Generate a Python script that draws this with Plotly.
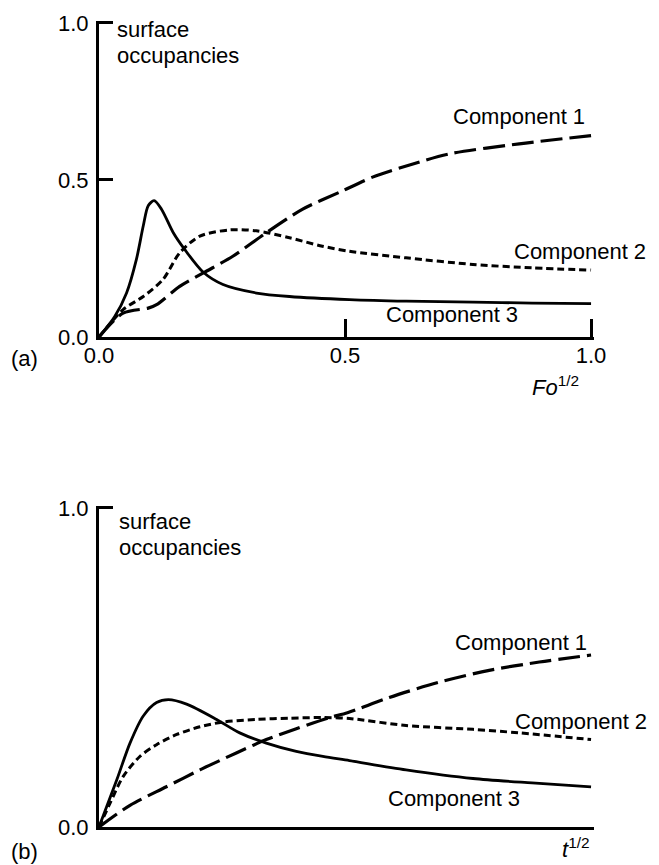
import plotly.graph_objects as go

# ---------------- data ----------------
# Panel (a): x = Fo^1/2
a_c1_x = [0, 0.049, 0.10, 0.117, 0.164, 0.212, 0.272, 0.34, 0.414, 0.489, 0.556, 0.638, 0.712, 0.854, 1.0]
a_c1_y = [0, 0.076, 0.092, 0.103, 0.161, 0.204, 0.257, 0.332, 0.407, 0.461, 0.509, 0.551, 0.583, 0.615, 0.641]

a_c2_x = [0, 0.049, 0.09, 0.13, 0.164, 0.205, 0.266, 0.32, 0.387, 0.454, 0.509, 0.624, 0.76, 0.88, 1.0]
a_c2_y = [0, 0.087, 0.129, 0.183, 0.268, 0.321, 0.341, 0.338, 0.316, 0.289, 0.273, 0.252, 0.231, 0.220, 0.213]

a_c3_x = [0, 0.032, 0.056, 0.076, 0.09, 0.10, 0.112, 0.127, 0.151, 0.174, 0.212, 0.252, 0.32, 0.387, 0.509, 0.624, 0.76, 0.88, 1.0]
a_c3_y = [0, 0.065, 0.14, 0.247, 0.354, 0.418, 0.434, 0.407, 0.332, 0.279, 0.206, 0.167, 0.14, 0.129, 0.119, 0.114, 0.111, 0.108, 0.106]

# Panel (b): x = t^1/2 (unlabelled, normalised 0..1)
b_c1_x = [0, 0.063, 0.137, 0.205, 0.279, 0.34, 0.401, 0.469, 0.505, 0.59, 0.692, 0.793, 0.895, 1.0]
b_c1_y = [0, 0.068, 0.126, 0.179, 0.232, 0.274, 0.308, 0.343, 0.358, 0.406, 0.454, 0.491, 0.517, 0.539]

b_c2_x = [0, 0.022, 0.049, 0.083, 0.117, 0.158, 0.205, 0.252, 0.32, 0.387, 0.455, 0.509, 0.624, 0.76, 0.854, 1.0]
b_c2_y = [0, 0.073, 0.158, 0.221, 0.258, 0.29, 0.314, 0.329, 0.337, 0.341, 0.343, 0.340, 0.318, 0.306, 0.295, 0.274]

b_c3_x = [0, 0.036, 0.063, 0.09, 0.117, 0.141, 0.178, 0.239, 0.286, 0.34, 0.401, 0.455, 0.509, 0.624, 0.76, 0.88, 1.0]
b_c3_y = [0, 0.147, 0.263, 0.348, 0.39, 0.399, 0.385, 0.337, 0.295, 0.263, 0.237, 0.221, 0.208, 0.179, 0.152, 0.138, 0.126]

a_xtickvals = [0, 0.5, 1.0]
a_xticktext = ["0.0", "0.5", "1.0"]
a_ytickvals = [0, 0.5, 1.0]
a_yticktext = ["0.0", "0.5", "1.0"]
b_ytickvals = [0, 1.0]
b_yticktext = ["0.0", "1.0"]

series_names = ["Component 1", "Component 2", "Component 3"]

# ---------------- layout helpers ----------------
W, H = 659, 865
FONT = "Liberation Sans, Arial, Helvetica, sans-serif"
FS = 22


def px(x):
    return x / W


def py(y):
    return (H - y) / H


dash_long = "22px,7px"
dash_short = "7px,4px"
styles = [dict(dash=dash_long, width=3.2), dict(dash=dash_short, width=3), dict(dash="solid", width=2.8)]

fig = go.Figure()

panels = [
    ("x", "y", [(a_c1_x, a_c1_y), (a_c2_x, a_c2_y), (a_c3_x, a_c3_y)]),
    ("x2", "y2", [(b_c1_x, b_c1_y), (b_c2_x, b_c2_y), (b_c3_x, b_c3_y)]),
]
for xa, ya, data in panels:
    for name, (xs, ys), st in zip(series_names, data, styles):
        fig.add_trace(go.Scatter(
            x=xs, y=ys, mode="lines", name=name, xaxis=xa, yaxis=ya,
            line=dict(color="black", width=st["width"], dash=st["dash"], shape="spline", smoothing=0.8),
            showlegend=False, hoverinfo="skip", cliponaxis=False,
        ))

x_dom = [px(99), px(594)]
RNG = [0, 1.006]
axis_common = dict(showline=True, linecolor="black", linewidth=3, showgrid=False, zeroline=False,
                   tickcolor="black", tickwidth=3, ticks="inside", automargin=False,
                   tickfont=dict(family=FONT, size=FS, color="black"))

fig.update_layout(
    width=W, height=H,
    margin=dict(l=0, r=0, t=0, b=0),
    paper_bgcolor="white", plot_bgcolor="white",
    font=dict(family=FONT, size=FS, color="black"),
    xaxis=dict(domain=x_dom, range=RNG, anchor="y", tickvals=a_xtickvals, ticktext=a_xticktext,
               ticklen=18, ticklabelstandoff=-3, **axis_common),
    yaxis=dict(domain=[py(337), py(21)], range=RNG, anchor="x", tickvals=a_ytickvals, ticktext=a_yticktext,
               ticklen=14, ticklabelstandoff=3, **axis_common),
    xaxis2=dict(domain=x_dom, range=RNG, anchor="y2", tickvals=[], showticklabels=False,
                ticklen=0, **axis_common),
    yaxis2=dict(domain=[py(827), py(506)], range=RNG, anchor="x2", tickvals=b_ytickvals, ticktext=b_yticktext,
                ticklen=14, ticklabelstandoff=3, **axis_common),
)


def ann(text, x, y, xanchor="left", yanchor="middle", size=FS):
    fig.add_annotation(text=text, x=px(x), y=py(y), xref="paper", yref="paper",
                       xanchor=xanchor, yanchor=yanchor, showarrow=False,
                       font=dict(family=FONT, size=size, color="black"), align="left")


# Panel (a) labels
ann("surface", 115, 30)
ann("occupancies", 115, 56)
ann("Component 1", 587, 116, xanchor="right")
ann("Component 2", 512, 252)
ann("Component 3", 384, 314)
ann("(a)", 9, 358)
ann("<i>Fo</i><sup>1/2</sup>", 530, 386)

# Panel (b) labels
ann("surface", 117, 521)
ann("occupancies", 117, 547)
ann("Component 1", 589, 642, xanchor="right")
ann("Component 2", 513, 721)
ann("Component 3", 386, 798)
ann("(b)", 9, 851)
ann("<i>t</i><sup>1/2</sup>", 560, 848)

fig.write_html("out.html")
